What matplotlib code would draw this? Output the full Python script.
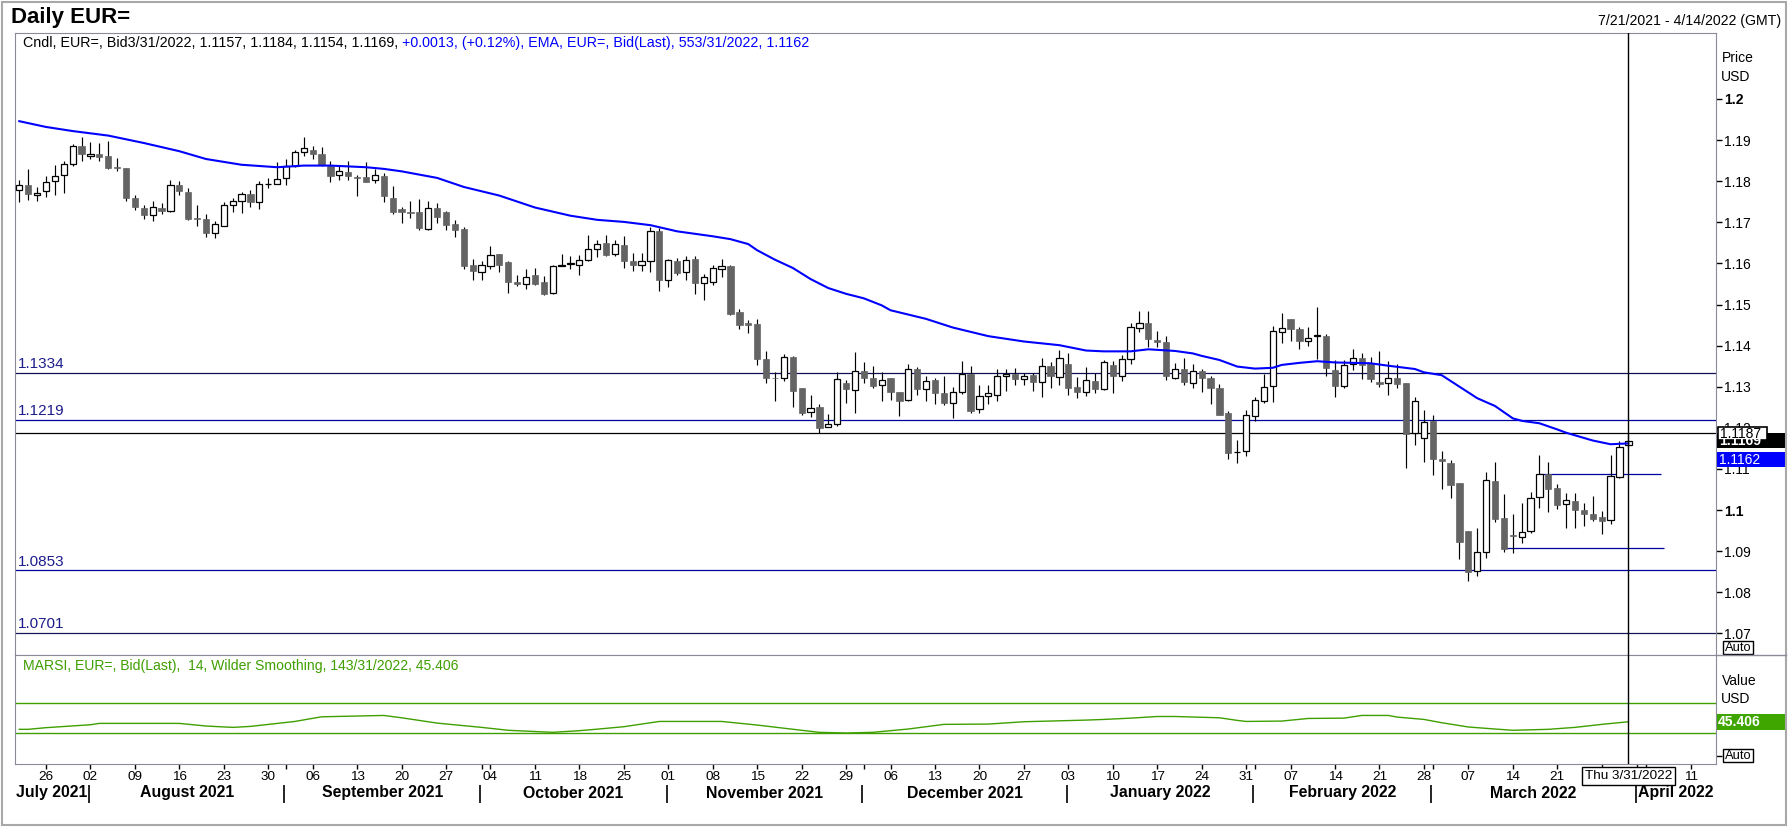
import matplotlib
matplotlib.use("Agg")
import matplotlib.pyplot as plt
import matplotlib.transforms as mtransforms
from matplotlib.patches import Rectangle
import numpy as np
import pandas as pd

plt.rcParams['font.family'] = ['Liberation Sans', 'DejaVu Sans']

# ---------------- data ----------------
axis_dates = pd.bdate_range('2021-07-21', '2022-04-14')   # trading-day axis (x categories)

open_ = [1.1779, 1.1791, 1.1766, 1.1777, 1.1801, 1.1815, 1.1841, 1.1886, 1.1862, 1.1866,
         1.1862, 1.1835, 1.1833, 1.1759, 1.1736, 1.1718, 1.1736, 1.1728, 1.1791, 1.1774,
         1.1710, 1.1708, 1.1674, 1.1691, 1.1742, 1.1752, 1.1769, 1.1749, 1.1792, 1.1793,
         1.1808, 1.1836, 1.1870, 1.1876, 1.1867, 1.1837, 1.1815, 1.1823, 1.1810, 1.1810,
         1.1803, 1.1813, 1.1760, 1.1732, 1.1724, 1.1724, 1.1684, 1.1736, 1.1724, 1.1695,
         1.1683, 1.1596, 1.1580, 1.1593, 1.1622, 1.1603, 1.1554, 1.1549, 1.1571, 1.1554,
         1.1527, 1.1593, 1.1598, 1.1596, 1.1609, 1.1634, 1.1649, 1.1622, 1.1644, 1.1605,
         1.1595, 1.1605, 1.1678, 1.1559, 1.1605, 1.1578, 1.1610, 1.1553, 1.1554, 1.1587,
         1.1593, 1.1482, 1.1455, 1.1453, 1.1368, 1.1322, 1.1321, 1.1373, 1.1296, 1.1239,
         1.1250, 1.1201, 1.1209, 1.1310, 1.1292, 1.1338, 1.1321, 1.1303, 1.1321, 1.1287,
         1.1267, 1.1343, 1.1295, 1.1317, 1.1285, 1.1261, 1.1287, 1.1331, 1.1245, 1.1278,
         1.1280, 1.1326, 1.1331, 1.1319, 1.1329, 1.1311, 1.1350, 1.1324, 1.1356, 1.1299,
         1.1287, 1.1315, 1.1295, 1.1353, 1.1326, 1.1367, 1.1442, 1.1454, 1.1414, 1.1409,
         1.1321, 1.1343, 1.1309, 1.1338, 1.1321, 1.1297, 1.1236, 1.1140, 1.1143, 1.1228,
         1.1265, 1.1302, 1.1432, 1.1465, 1.1441, 1.1411, 1.1424, 1.1424, 1.1341, 1.1301,
         1.1356, 1.1371, 1.1357, 1.1312, 1.1309, 1.1322, 1.1310, 1.1187, 1.1176, 1.1216,
         1.1123, 1.1115, 1.1066, 1.0949, 1.0851, 1.0897, 1.1071, 1.0981, 1.0939, 1.0935,
         1.0949, 1.1032, 1.1087, 1.1054, 1.1014, 1.1021, 1.1000, 1.0990, 1.0983, 1.0975,
         1.1081, 1.1157]

high = [1.1804, 1.1830, 1.1786, 1.1813, 1.1840, 1.1850, 1.1891, 1.1908, 1.1895, 1.1893,
        1.1898, 1.1856, 1.1833, 1.1767, 1.1743, 1.1753, 1.1747, 1.1804, 1.1800, 1.1783,
        1.1743, 1.1719, 1.1704, 1.1749, 1.1760, 1.1774, 1.1778, 1.1801, 1.1808, 1.1846,
        1.1854, 1.1876, 1.1907, 1.1886, 1.1883, 1.1849, 1.1839, 1.1849, 1.1816, 1.1846,
        1.1830, 1.1820, 1.1789, 1.1737, 1.1751, 1.1756, 1.1751, 1.1748, 1.1727, 1.1705,
        1.1689, 1.1610, 1.1607, 1.1642, 1.1622, 1.1606, 1.1571, 1.1586, 1.1588, 1.1570,
        1.1597, 1.1624, 1.1619, 1.1621, 1.1670, 1.1658, 1.1668, 1.1656, 1.1666, 1.1626,
        1.1626, 1.1689, 1.1685, 1.1610, 1.1612, 1.1617, 1.1617, 1.1574, 1.1595, 1.1610,
        1.1596, 1.1488, 1.1463, 1.1465, 1.1388, 1.1336, 1.1379, 1.1375, 1.1296, 1.1280,
        1.1259, 1.1233, 1.1336, 1.1317, 1.1384, 1.1361, 1.1350, 1.1336, 1.1321, 1.1287,
        1.1356, 1.1349, 1.1326, 1.1321, 1.1326, 1.1299, 1.1363, 1.1350, 1.1305, 1.1305,
        1.1344, 1.1344, 1.1346, 1.1334, 1.1334, 1.1370, 1.1360, 1.1390, 1.1383, 1.1324,
        1.1348, 1.1334, 1.1366, 1.1362, 1.1376, 1.1455, 1.1484, 1.1484, 1.1435, 1.1423,
        1.1358, 1.1370, 1.1356, 1.1344, 1.1327, 1.1306, 1.1241, 1.1170, 1.1244, 1.1276,
        1.1331, 1.1448, 1.1480, 1.1465, 1.1445, 1.1446, 1.1493, 1.1429, 1.1365, 1.1365,
        1.1392, 1.1383, 1.1373, 1.1388, 1.1363, 1.1356, 1.1310, 1.1274, 1.1244, 1.1231,
        1.1144, 1.1121, 1.1066, 1.0949, 1.0956, 1.1093, 1.1116, 1.1039, 1.0990, 1.1016,
        1.1044, 1.1134, 1.1116, 1.1063, 1.1042, 1.1042, 1.1018, 1.1034, 1.0998, 1.1134,
        1.1168, 1.1184]

low = [1.1750, 1.1755, 1.1753, 1.1762, 1.1766, 1.1771, 1.1836, 1.1848, 1.1854, 1.1848,
       1.1829, 1.1825, 1.1751, 1.1731, 1.1707, 1.1703, 1.1720, 1.1725, 1.1766, 1.1706,
       1.1691, 1.1664, 1.1662, 1.1690, 1.1725, 1.1722, 1.1737, 1.1732, 1.1783, 1.1792,
       1.1790, 1.1834, 1.1862, 1.1854, 1.1836, 1.1797, 1.1802, 1.1804, 1.1765, 1.1797,
       1.1796, 1.1749, 1.1719, 1.1698, 1.1710, 1.1681, 1.1682, 1.1698, 1.1681, 1.1664,
       1.1587, 1.1560, 1.1559, 1.1586, 1.1579, 1.1527, 1.1546, 1.1538, 1.1548, 1.1524,
       1.1526, 1.1593, 1.1587, 1.1571, 1.1607, 1.1616, 1.1618, 1.1618, 1.1589, 1.1582,
       1.1582, 1.1580, 1.1534, 1.1543, 1.1572, 1.1560, 1.1526, 1.1512, 1.1548, 1.1567,
       1.1475, 1.1441, 1.1431, 1.1354, 1.1308, 1.1265, 1.1313, 1.1250, 1.1231, 1.1226,
       1.1187, 1.1201, 1.1204, 1.1261, 1.1236, 1.1308, 1.1296, 1.1265, 1.1267, 1.1228,
       1.1265, 1.1279, 1.1265, 1.1259, 1.1255, 1.1223, 1.1282, 1.1235, 1.1235, 1.1259,
       1.1265, 1.1289, 1.1303, 1.1303, 1.1289, 1.1274, 1.1298, 1.1303, 1.1279, 1.1273,
       1.1277, 1.1284, 1.1291, 1.1284, 1.1313, 1.1355, 1.1434, 1.1396, 1.1396, 1.1316,
       1.1318, 1.1303, 1.1296, 1.1286, 1.1257, 1.1230, 1.1125, 1.1115, 1.1132, 1.1217,
       1.1261, 1.1262, 1.1406, 1.1410, 1.1391, 1.1398, 1.1368, 1.1326, 1.1274, 1.1297,
       1.1340, 1.1318, 1.1311, 1.1300, 1.1281, 1.1296, 1.1101, 1.1158, 1.1118, 1.1084,
       1.1052, 1.1028, 1.0880, 1.0828, 1.0840, 1.0884, 1.0971, 1.0898, 1.0896, 1.0920,
       1.0943, 1.1004, 1.0995, 1.1002, 1.0955, 1.0957, 1.0960, 1.0973, 1.0941, 1.0965,
       1.1077, 1.1154]

close = [1.1791, 1.1768, 1.1771, 1.1798, 1.1812, 1.1841, 1.1885, 1.1867, 1.1866, 1.1858,
         1.1833, 1.1831, 1.1758, 1.1737, 1.1717, 1.1737, 1.1728, 1.1791, 1.1775, 1.1708,
         1.1709, 1.1674, 1.1695, 1.1741, 1.1752, 1.1769, 1.1749, 1.1793, 1.1793, 1.1805,
         1.1836, 1.1871, 1.1880, 1.1865, 1.1839, 1.1812, 1.1825, 1.1812, 1.1807, 1.1799,
         1.1815, 1.1763, 1.1725, 1.1725, 1.1723, 1.1685, 1.1736, 1.1712, 1.1693, 1.1681,
         1.1594, 1.1582, 1.1596, 1.1621, 1.1596, 1.1554, 1.1550, 1.1568, 1.1550, 1.1526,
         1.1593, 1.1595, 1.1600, 1.1609, 1.1634, 1.1648, 1.1621, 1.1648, 1.1606, 1.1595,
         1.1605, 1.1680, 1.1560, 1.1608, 1.1577, 1.1609, 1.1553, 1.1566, 1.1588, 1.1593,
         1.1477, 1.1451, 1.1451, 1.1368, 1.1320, 1.1321, 1.1372, 1.1289, 1.1235, 1.1249,
         1.1200, 1.1210, 1.1319, 1.1294, 1.1337, 1.1321, 1.1301, 1.1317, 1.1287, 1.1265,
         1.1343, 1.1294, 1.1314, 1.1284, 1.1260, 1.1286, 1.1331, 1.1241, 1.1278, 1.1285,
         1.1326, 1.1330, 1.1318, 1.1325, 1.1311, 1.1350, 1.1325, 1.1370, 1.1297, 1.1286,
         1.1317, 1.1294, 1.1360, 1.1325, 1.1367, 1.1445, 1.1454, 1.1415, 1.1408, 1.1325,
         1.1343, 1.1311, 1.1338, 1.1320, 1.1296, 1.1232, 1.1139, 1.1141, 1.1231, 1.1267,
         1.1299, 1.1436, 1.1443, 1.1440, 1.1410, 1.1419, 1.1425, 1.1345, 1.1301, 1.1353,
         1.1370, 1.1354, 1.1318, 1.1306, 1.1321, 1.1306, 1.1184, 1.1265, 1.1215, 1.1123,
         1.1120, 1.1060, 1.0923, 1.0848, 1.0897, 1.1072, 1.0979, 1.0906, 1.0936, 1.0947,
         1.1028, 1.1087, 1.1052, 1.1011, 1.1024, 1.1001, 1.0991, 1.0977, 1.0973, 1.1082,
         1.1154, 1.1169]

# 55-period EMA, read at selected trading days (index into axis_dates)
ema_day = [0, 3, 6, 10, 14, 18, 21, 25, 29, 32, 35, 39, 41, 43, 47, 50, 54, 58, 62, 65,
           68, 71, 74, 78, 80, 82, 83, 85, 87, 89, 91, 93, 95, 97, 98, 102, 105, 109, 113, 117,
           120, 122, 125, 127, 130, 132, 133, 135, 137, 139, 141, 142, 144, 146, 148, 152, 154, 157, 158, 160,
           162, 164, 166, 168, 169, 171, 173, 174, 177, 179, 181]
ema_val = [1.1946, 1.1932, 1.1922, 1.1911, 1.1893, 1.1873, 1.1854, 1.1840, 1.1834, 1.1838,
           1.1838, 1.1834, 1.1830, 1.1824, 1.1808, 1.1786, 1.1765, 1.1736, 1.1716, 1.1706,
           1.1701, 1.1693, 1.1678, 1.1666, 1.1659, 1.1647, 1.1632, 1.1609, 1.1589, 1.1562,
           1.1540, 1.1526, 1.1515, 1.1498, 1.1486, 1.1465, 1.1444, 1.1423, 1.1410, 1.1401,
           1.1388, 1.1386, 1.1386, 1.1391, 1.1387, 1.1381, 1.1375, 1.1365, 1.1349, 1.1344,
           1.1346, 1.1353, 1.1358, 1.1362, 1.1359, 1.1357, 1.1351, 1.1343, 1.1335, 1.1328,
           1.1300, 1.1272, 1.1253, 1.1223, 1.1217, 1.1211, 1.1196, 1.1188, 1.1169, 1.1160,
           1.1162]

# RSI (14, Wilder) read at selected trading days
rsi_day = [0, 1, 3, 8, 9, 18, 21, 24, 26, 31, 34, 41, 43, 47, 52, 55, 60, 63, 65, 68,
           72, 79, 83, 88, 90, 93, 96, 100, 104, 109, 113, 120, 122, 125, 128, 130, 135, 137, 138, 142,
           145, 149, 151, 154, 155, 158, 160, 163, 166, 168, 172, 175, 178, 181]
rsi_val = [35.3, 35.3, 37.5, 41.4, 43.2, 43.2, 39.7, 37.9, 39.2, 45.8, 52.0, 53.8, 50.7, 43.6, 37.9,
           34.0, 31.3, 33.5, 35.5, 38.8, 45.8, 45.8, 41.0, 34.0, 31.3, 30.4, 31.3, 35.7, 41.9, 42.3,
           45.4, 47.6, 48.5, 50.2, 52.4, 52.4, 50.7, 47.2, 45.8, 46.3, 49.8, 50.2, 53.8, 53.8, 51.6,
           48.5, 44.1, 38.4, 35.7, 34.0, 35.3, 37.9, 41.9, 45.4]
rsi_levels = [70, 30]

# horizontal price levels
level_values = [1.1334, 1.1219, 1.0853, 1.0701]
level_labels = ["1.1334", "1.1219", "1.0853", "1.0701"]
level_colors = ["#10105a", "#0000a0", "#0000a0", "#15155a"]
last_line = 1.1187

# drawn trend segments (start day, end day, price)
seg_start = [171, 166.7]
seg_end = [184.7, 185.0]
seg_price = [1.1088, 1.0907]

price_ticks = [1.07, 1.08, 1.09, 1.10, 1.11, 1.12, 1.13, 1.14, 1.15, 1.16, 1.17, 1.18, 1.19, 1.20]
price_tick_labels = ["1.07", "1.08", "1.09", "1.1", "1.11", "1.12", "1.13", "1.14", "1.15",
                     "1.16", "1.17", "1.18", "1.19", "1.2"]
cursor_day = 181

# ---------------- layout ----------------
W, H = 1788, 827
fig = plt.figure(figsize=(W / 100, H / 100), dpi=100)
fig.patch.set_facecolor('white')

PL, PR = 15, 1716
P_TOP, P_BOT, R_BOT = 33, 655, 764
X0, DX = 19.3, 8.89
FRAME = '#8a8a9a'
GREEN = '#3f9f00'

xlim = ((PL - X0) / DX, (PR - X0) / DX)

ax_p = fig.add_axes([PL / W, 1 - P_BOT / H, (PR - PL) / W, (P_BOT - P_TOP) / H])
ax_r = fig.add_axes([PL / W, 1 - R_BOT / H, (PR - PL) / W, (R_BOT - P_BOT) / H])

o = np.array(open_); h = np.array(high); l = np.array(low); c = np.array(close)
x = np.arange(len(c))
up = c >= o
bot = np.minimum(o, c)
bh = np.maximum(np.abs(c - o), 0.00005)

ax_p.vlines(x, l, h, color='black', lw=0.85, zorder=2)
ax_p.bar(x[up], bh[up], bottom=bot[up], width=0.7, facecolor='white', edgecolor='black',
         lw=0.9, zorder=3)
ax_p.bar(x[~up], bh[~up], bottom=bot[~up], width=0.7, facecolor='#646464', edgecolor='#646464',
         lw=0.5, zorder=3)

ax_p.plot(ema_day, ema_val, color='#0000ff', lw=1.5, zorder=4, solid_joinstyle='round')

blend = mtransforms.blended_transform_factory(ax_p.transAxes, ax_p.transData)
for v, lab, col in zip(level_values, level_labels, level_colors):
    ax_p.axhline(v, color=col, lw=0.9, zorder=1)
    ax_p.text(3 / (PR - PL), v + 0.0004, lab, transform=blend, color='#1c1c8c', fontsize=11,
              va='bottom', ha='left')
ax_p.axhline(last_line, color='black', lw=0.9, zorder=1)
ax_p.hlines(seg_price, seg_start, seg_end, color='#0000a0', lw=0.9, zorder=1)
ax_p.axvline(cursor_day, color='black', lw=1.0, zorder=6)

ax_p.set_xlim(*xlim)
ax_p.set_ylim(1.2 - (P_BOT - 99) / 4110, 1.2 + (99 - P_TOP) / 4110)
ax_p.yaxis.tick_right()
ax_p.set_yticks(price_ticks)
ax_p.set_yticklabels(price_tick_labels)
ax_p.tick_params(axis='y', direction='out', length=4, width=1, labelsize=10, pad=2,
                 left=False, right=True, labelleft=False, labelright=True)
ax_p.tick_params(axis='x', bottom=False, labelbottom=False)
for t in ax_p.get_yticklabels():
    if t.get_text() in ('1.2', '1.1'):
        t.set_fontweight('bold')
for s in ax_p.spines.values():
    s.set_color(FRAME)

# RSI panel
ax_r.plot(rsi_day, rsi_val, color=GREEN, lw=1.0, zorder=3)
for lv in rsi_levels:
    ax_r.axhline(lv, color=GREEN, lw=1.0, zorder=2)
ax_r.axvline(cursor_day, color='black', lw=1.0, zorder=6)
ax_r.set_xlim(*xlim)
ax_r.set_ylim(30 - (R_BOT - 733.3) / 0.75, 70 + (703.3 - P_BOT) / 0.75)
ax_r.yaxis.tick_right()
ax_r.set_yticks([0, 50])
ax_r.set_yticklabels(['', '50'])
ax_r.tick_params(axis='y', direction='out', length=4, width=1, labelsize=10, pad=2,
                 left=False, right=True, labelleft=False, labelright=True)
for s in ax_r.spines.values():
    s.set_color(FRAME)

n_axis = len(axis_dates)
mondays = [i for i in range(n_axis) if axis_dates[i].dayofweek == 0]
month_starts = [i for i in range(1, n_axis) if axis_dates[i].month != axis_dates[i - 1].month]
ax_r.set_xticks(mondays)
ax_r.set_xticklabels([f"{axis_dates[i].day:02d}" for i in mondays])
ax_r.set_xticks(month_starts, minor=True)
ax_r.tick_params(axis='x', which='both', direction='out', length=3.5, width=1, labelsize=9.7,
                 pad=1.5, colors='black')

# bottom strip: month separators and names
ax_b = fig.add_axes([PL / W, 0, (PR - PL) / W, (H - R_BOT) / H])
ax_b.set_xlim(*xlim)
ax_b.set_ylim(H - R_BOT, 0)
ax_b.axis('off')
seps = [m - 0.17 for m in month_starts]
ax_b.vlines(seps, 21, 39, color='black', lw=1.2)
bounds = [xlim[0]] + seps + [xlim[1]]
starts = [0] + month_starts
for k, si in enumerate(starts):
    d = axis_dates[si]
    ax_b.text((bounds[k] + bounds[k + 1]) / 2, 29, f"{d.strftime('%B')} {d.year}",
              ha='center', va='center', fontsize=11.4, fontweight='bold')
ax_b.text(cursor_day, 12, 'Thu 3/31/2022', ha='center', va='center', fontsize=9.7, zorder=10,
          bbox=dict(boxstyle='square,pad=0.2', fc='white', ec='black', lw=1.0))

# overlay in pixel coordinates for header, legends and side labels
ax_o = fig.add_axes([0, 0, 1, 1])
ax_o.set_xlim(0, W)
ax_o.set_ylim(H, 0)
ax_o.axis('off')
ax_o.set_zorder(20)

ax_o.text(11, 17, 'Daily EUR=', fontsize=16, fontweight='bold', ha='left', va='center')
ax_o.text(1781, 21, '7/21/2021 - 4/14/2022 (GMT)', fontsize=10.2, ha='right', va='center')

renderer = fig.canvas.get_renderer()
t1 = ax_o.text(23, 43, 'Cndl, EUR=, Bid3/31/2022, 1.1157, 1.1184, 1.1154, 1.1169,',
               fontsize=10.3, ha='left', va='center', color='black')
bb = t1.get_window_extent(renderer)
ax_o.text(bb.x1 + 4, 43, '+0.0013, (+0.12%), EMA, EUR=, Bid(Last), 553/31/2022, 1.1162',
          fontsize=10.3, ha='left', va='center', color='#0000ff')
ax_o.text(23, 666, 'MARSI, EUR=, Bid(Last),  14, Wilder Smoothing, 143/31/2022, 45.406',
          fontsize=10.1, ha='left', va='center', color=GREEN)

ax_o.text(1722, 58, 'Price', fontsize=10, ha='left', va='center')
ax_o.text(1721, 77, 'USD', fontsize=10, ha='left', va='center')
ax_o.text(1722, 681, 'Value', fontsize=10, ha='left', va='center')
ax_o.text(1721, 699, 'USD', fontsize=10, ha='left', va='center')

# price value boxes
ax_o.add_patch(Rectangle((1717, 433), 68, 15, fc='black', ec='none'))
ax_o.text(1719, 441, '1.1169', color='white', fontsize=10, fontweight='bold', ha='left', va='center')
ax_o.add_patch(Rectangle((1718, 427), 49, 13, fc='white', ec='black', lw=1.2))
ax_o.text(1720, 433.5, '1.1187', color='black', fontsize=10, ha='left', va='center')
ax_o.add_patch(Rectangle((1717, 452), 68, 15, fc='#0000ff', ec='none'))
ax_o.text(1719, 459.5, '1.1162', color='white', fontsize=10, ha='left', va='center')
ax_o.add_patch(Rectangle((1717, 714), 68, 16, fc='#3fa600', ec='none'))
ax_o.text(1718, 722, '45.406', color='white', fontsize=10, fontweight='bold', ha='left', va='center')
for yb in (641, 749):
    ax_o.add_patch(Rectangle((1723, yb), 30, 13, fc='white', ec='black', lw=1.0))
    ax_o.text(1724.5, yb + 7, 'Auto', fontsize=9.3, ha='left', va='center')

ax_o.plot([PR, W - 2], [P_BOT, P_BOT], color=FRAME, lw=1)
ax_o.add_patch(Rectangle((1.5, 1.5), W - 4, H - 4, fill=False, ec='#a8a8a8', lw=1.5))

fig.savefig('out.png', dpi=100, facecolor='white')
